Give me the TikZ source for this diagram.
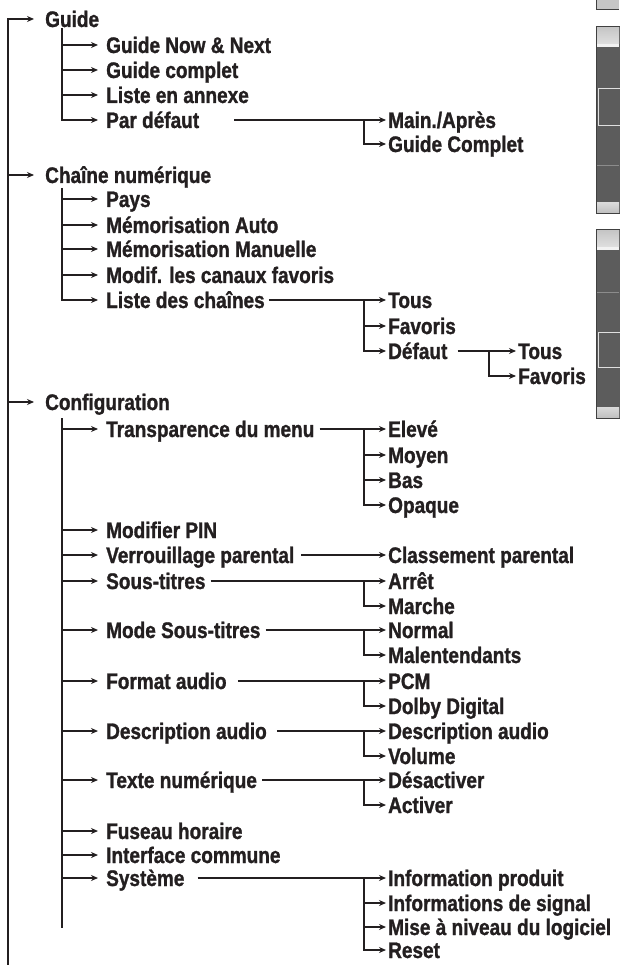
\documentclass[tikz,border=0pt]{standalone}
\usepackage{fontspec}
\setmainfont{Liberation Sans}[FakeStretch=0.845, BoldFeatures={FakeBold=1.2}]
\usetikzlibrary{arrows.meta}
\definecolor{ink}{RGB}{35,31,32}
\definecolor{barbody}{RGB}{92,92,92}

\begin{document}
\begin{tikzpicture}[x=1pt, y=-1pt,
  item/.style={anchor=west, inner sep=0pt, text height=16pt, text depth=0pt,
    font=\bfseries\fontsize{22.5}{22.5}\selectfont, text=ink},
  line/.style={draw=ink, line width=1.8pt},
  link/.style={line, -{Stealth[length=7pt,width=6pt]}},
  mainarrow/.style={link, shorten >=11pt},
  subarrow/.style={link, shorten >=8pt},
  leafarrow/.style={link, shorten >=2pt}
]
\useasboundingbox (0,0) rectangle (619,965);

% scroll bars at the right edge
\fill[gray!45] (596,0) rectangle (619,9);
\draw[black!75, line width=1pt] (596.5,0) |- (619,9.5);
\foreach \top/\bot/\sep/\hla/\hlb in {27/213.5/165/88.5/126, 230/418/292/332/367.5} {
  \draw[black!75, line width=1pt, fill=barbody] (596.5,\top) rectangle (620,\bot);
  \shade[top color=gray!45, bottom color=gray!25] (597,\top+0.5) rectangle (619,\top+17);
  \fill[gray!10] (597,\top+17) rectangle (619,\top+20.5);
  \draw[black!45] (597,\sep) -- (619,\sep);
  \draw[gray!25, line width=1pt] (598.5,\hla) rectangle (621,\hlb);
  \shade[top color=gray!30, bottom color=gray!50] (597,\bot-10.5) rectangle (619,\bot-0.5);
}

% first level
\node[item] (guide)  at (45,19)  {Guide};
\node[item] (chaine) at (45,175) {Chaîne numérique};
\node[item] (config) at (45,402) {Configuration};

% Guide
\node[item] (gnow)   at (106,45)  {Guide Now \& Next};
\node[item] (gcomp)  at (106,70)  {Guide complet};
\node[item] (glist)  at (106,95)  {Liste en annexe};
\node[item] (pardef) at (106,120) {Par défaut};
\node[item] (gmain)  at (388,120) {Main./Après};
\node[item] (gfull)  at (388,144) {Guide Complet};

% Chaine numerique
\node[item] (pays)    at (106,199) {Pays};
\node[item] (memauto) at (106,225) {Mémorisation Auto};
\node[item] (memman)  at (106,249) {Mémorisation Manuelle};
\node[item] (modif)   at (106,275) {Modif. les canaux favoris};
\node[item] (liste)   at (106,300) {Liste des chaînes};
\node[item] (ltous)   at (388,300) {Tous};
\node[item] (lfav)    at (388,326) {Favoris};
\node[item] (ldef)    at (388,351) {Défaut};
\node[item] (dtous)   at (518,351) {Tous};
\node[item] (dfav)    at (518,376) {Favoris};

% Configuration
\node[item] (transp) at (106,429) {Transparence du menu};
\node[item] (pin)    at (106,530) {Modifier PIN};
\node[item] (verr)   at (106,555) {Verrouillage parental};
\node[item] (sous)   at (106,581) {Sous-titres};
\node[item] (mode)   at (106,630) {Mode Sous-titres};
\node[item] (format) at (106,681) {Format audio};
\node[item] (descr)  at (106,731) {Description audio};
\node[item] (texte)  at (106,780) {Texte numérique};
\node[item] (fuseau) at (106,831) {Fuseau horaire};
\node[item] (interf) at (106,855) {Interface commune};
\node[item] (syst)   at (106,878) {Système};

\node[item] (elev)   at (388,429) {Elevé};
\node[item] (moyen)  at (388,455) {Moyen};
\node[item] (bas)    at (388,480) {Bas};
\node[item] (opaque) at (388,505) {Opaque};
\node[item] (classe) at (388,555) {Classement parental};
\node[item] (arret)  at (388,581) {Arrêt};
\node[item] (marche) at (388,606) {Marche};
\node[item] (normal) at (388,630) {Normal};
\node[item] (malent) at (388,655) {Malentendants};
\node[item] (pcm)    at (388,681) {PCM};
\node[item] (dolby)  at (388,706) {Dolby Digital};
\node[item] (daudio) at (388,731) {Description audio};
\node[item] (volume) at (388,756) {Volume};
\node[item] (desact) at (388,780) {Désactiver};
\node[item] (activ)  at (388,805) {Activer};
\node[item] (info)   at (388,878) {Information produit};
\node[item] (signal) at (388,903) {Informations de signal};
\node[item] (mise)   at (388,927) {Mise à niveau du logiciel};
\node[item] (reset)  at (388,950) {Reset};

% trunk
\coordinate (root) at (8,965);
\draw[mainarrow] (root) |- (guide.west);
\draw[mainarrow] (root |- chaine.west) -- (chaine.west);
\draw[mainarrow] (root |- config.west) -- (config.west);

% second level bars
\coordinate (gbar) at (62,28);
\draw[subarrow] (gbar) |- (pardef.west);
\foreach \n in {gnow,gcomp,glist}
  \draw[subarrow] (gbar |- \n.west) -- (\n.west);

\coordinate (cbar) at (62,188);
\draw[subarrow] (cbar) |- (liste.west);
\foreach \n in {pays,memauto,memman,modif}
  \draw[subarrow] (cbar |- \n.west) -- (\n.west);

\coordinate (kbar) at (62,418);
\coordinate (kend) at (62,928);
\draw[line] (kbar) -- (kend);
\foreach \n in {transp,pin,verr,sous,mode,format,descr,texte,fuseau,interf,syst}
  \draw[subarrow] (kbar |- \n.west) -- (\n.west);

% third level
\draw[leafarrow] ([xshift=35pt]pardef.east) -- (gmain.west);
\draw[leafarrow] ([xshift=-24pt]gmain.west) |- (gfull.west);

\draw[leafarrow] ([xshift=4pt]liste.east) -- (ltous.west);
\coordinate (lb) at ([xshift=-24pt]ltous.west);
\draw[leafarrow] (lb) |- (ldef.west);
\draw[leafarrow] (lb |- lfav.west) -- (lfav.west);
\draw[leafarrow] ([xshift=10pt]ldef.east) -- (dtous.west);
\draw[leafarrow] ([xshift=-29pt]dtous.west) |- (dfav.west);

\draw[leafarrow] ([xshift=5pt]transp.east) -- (elev.west);
\coordinate (tb) at ([xshift=-24pt]elev.west);
\draw[leafarrow] (tb) |- (opaque.west);
\foreach \n in {moyen,bas}
  \draw[leafarrow] (tb |- \n.west) -- (\n.west);

\draw[leafarrow] ([xshift=7pt]verr.east) -- (classe.west);

\draw[leafarrow] ([xshift=5pt]sous.east) -- (arret.west);
\draw[leafarrow] ([xshift=-24pt]arret.west) |- (marche.west);

\draw[leafarrow] ([xshift=5pt]mode.east) -- (normal.west);
\draw[leafarrow] ([xshift=-24pt]normal.west) |- (malent.west);

\draw[leafarrow] ([xshift=11pt]format.east) -- (pcm.west);
\draw[leafarrow] ([xshift=-24pt]pcm.west) |- (dolby.west);

\draw[leafarrow] ([xshift=10pt]descr.east) -- (daudio.west);
\draw[leafarrow] ([xshift=-24pt]daudio.west) |- (volume.west);

\draw[leafarrow] ([xshift=5pt]texte.east) -- (desact.west);
\draw[leafarrow] ([xshift=-24pt]desact.west) |- (activ.west);

\draw[leafarrow] ([xshift=13pt]syst.east) -- (info.west);
\coordinate (sb) at ([xshift=-24pt]info.west);
\draw[leafarrow] (sb) |- (reset.west);
\foreach \n in {signal,mise}
  \draw[leafarrow] (sb |- \n.west) -- (\n.west);
\end{tikzpicture}
\end{document}
